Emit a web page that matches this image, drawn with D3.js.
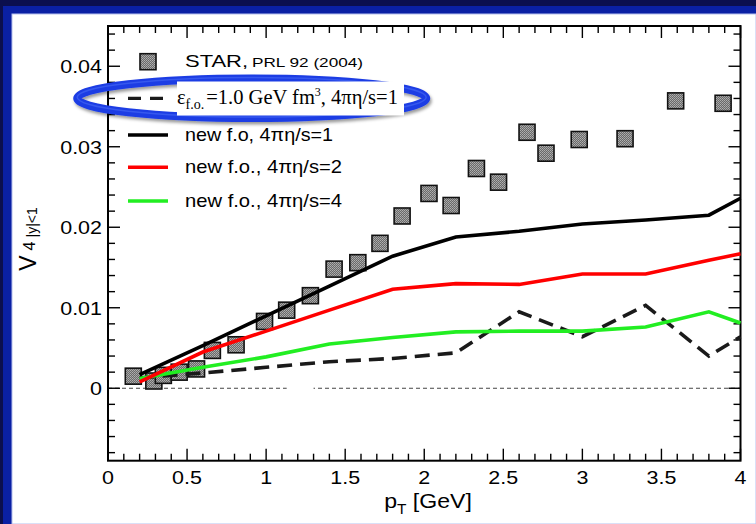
<!DOCTYPE html>
<html><head><meta charset="utf-8">
<script src="https://cdn.jsdelivr.net/npm/d3@7"></script>
<style>html,body{margin:0;padding:0;background:#0b0f4e;} svg{display:block}</style>
</head><body>
<svg id="c" width="756" height="524"></svg>
<script>
// ---- data ----
const starPt = [0.16,0.29,0.35,0.45,0.56,0.66,0.81,0.99,1.13,1.28,1.43,1.58,1.72,1.86,2.03,2.17,2.33,2.47,2.65,2.77,2.98,3.27,3.59,3.89];
const starV4 = [0.0015,0.0009,0.0016,0.0020,0.0024,0.0047,0.0054,0.0083,0.0097,0.0115,0.0148,0.0156,0.0180,0.0214,0.0242,0.0227,0.0273,0.0256,0.0318,0.0292,0.0309,0.0310,0.0357,0.0354];
const hydroPt = [0.2,0.6,1.0,1.4,1.8,2.2,2.6,3.0,3.4,3.8,4.0];
const v4OldFo = [0.0013,0.0019,0.0026,0.0033,0.0037,0.0044,0.0095,0.0064,0.0103,0.0040,0.0064];
const v4Eta1  = [0.0017,0.0053,0.0090,0.0127,0.0164,0.0188,0.0195,0.0204,0.0209,0.0215,0.0236];
const v4Eta2  = [0.0008,0.0045,0.0071,0.0097,0.0123,0.0130,0.0129,0.0142,0.0142,0.0159,0.0167];
const v4Eta4  = [0.0012,0.0026,0.0039,0.0055,0.0063,0.0070,0.0071,0.0071,0.0076,0.0095,0.0081];
const xTicks = [0,0.5,1,1.5,2,2.5,3,3.5,4];
const xTickLabels = ["0","0.5","1","1.5","2","2.5","3","3.5","4"];
const yTicks = [0,0.01,0.02,0.03,0.04];
const yTickLabels = ["0","0.01","0.02","0.03","0.04"];
const xMinorStep = 0.1, yMinorStep = 0.002;

const W = 756, H = 524;
const svg = d3.select("#c");
const defs = svg.append("defs");
const pat = defs.append("pattern").attr("id","dither").attr("width",2).attr("height",2).attr("patternUnits","userSpaceOnUse");
pat.append("rect").attr("width",2).attr("height",2).attr("fill","#6a6a6a");
pat.append("rect").attr("width",1).attr("height",1).attr("fill","#b0b0b0");
pat.append("rect").attr("x",1).attr("y",1).attr("width",1).attr("height",1).attr("fill","#a0a0a0");
const sh = defs.append("filter").attr("id","shadow").attr("x","-10%").attr("y","-50%").attr("width","120%").attr("height","200%");
sh.append("feDropShadow").attr("dx",1.5).attr("dy",2.5).attr("stdDeviation",1.8).attr("flood-color","#000").attr("flood-opacity",0.4);

// background frame
svg.append("rect").attr("width",W).attr("height",H).attr("fill","#0b0f4e");
svg.append("rect").attr("x",3).attr("y",6).attr("width",W-3).attr("height",H-6).attr("fill","#0a20a4");
svg.append("rect").attr("x",12).attr("y",14).attr("width",W-12).attr("height",H-14).attr("fill","#fff")
  .attr("stroke","#b5c0ee").attr("stroke-width",1);

const x = d3.scaleLinear().domain([0,4]).range([108,740.5]);
const y = d3.scaleLinear().domain([-0.009,0.045]).range([460.7,26]);
const [X0,X1] = x.range(), [Y0,Y1] = y.range();

const SANS = "'Liberation Sans',Arial,Helvetica,sans-serif";
const SERIF = "'Liberation Serif','Times New Roman',serif";
function stretch(sel, k){ sel.each(function(){ const w=this.getComputedTextLength(); d3.select(this).attr("textLength",w*k).attr("lengthAdjust","spacingAndGlyphs"); }); }

// zero line
svg.append("line").attr("x1",X0).attr("x2",X1).attr("y1",y(0)).attr("y2",y(0))
  .attr("stroke","#444").attr("stroke-width",1).attr("stroke-dasharray","4,3");
svg.append("rect").attr("x",x(1.13)).attr("y",y(0)-3).attr("width",x(1.30)-x(1.13)).attr("height",6).attr("fill","#fff");

// ticks
const axG = svg.append("g").attr("stroke","#000").attr("stroke-width",1.4);
const isMajor = (v,s)=>Math.abs(v/s-Math.round(v/s))<1e-6;
const xm = d3.range(0, 4+1e-9, xMinorStep);
xm.forEach(v=>{
  const L = isMajor(v,0.5)?12:7;
  axG.append("line").attr("x1",x(v)).attr("x2",x(v)).attr("y1",Y0).attr("y2",Y0-L);
  axG.append("line").attr("x1",x(v)).attr("x2",x(v)).attr("y1",Y1).attr("y2",Y1+L);
});
const ym = d3.range(-0.008, 0.045+1e-9, yMinorStep);
ym.forEach(v=>{
  const L = isMajor(v,0.01)?12:7;
  axG.append("line").attr("x1",X0).attr("x2",X0+L).attr("y1",y(v)).attr("y2",y(v));
  axG.append("line").attr("x1",X1).attr("x2",X1-L).attr("y1",y(v)).attr("y2",y(v));
});
svg.append("rect").attr("x",X0).attr("y",Y1).attr("width",X1-X0).attr("height",Y0-Y1)
  .attr("fill","none").attr("stroke","#000").attr("stroke-width",2);

// tick labels
const xl = svg.append("g").selectAll("text").data(xTicks).join("text")
  .attr("x",d=>x(d)).attr("y",484).attr("text-anchor","middle")
  .attr("font-family",SANS).attr("font-size",19).attr("fill","#000")
  .text((d,i)=>xTickLabels[i]);
stretch(xl,1.13);
const yl = svg.append("g").selectAll("text").data(yTicks).join("text")
  .attr("x",102).attr("y",d=>y(d)+7).attr("text-anchor","end")
  .attr("font-family",SANS).attr("font-size",19).attr("fill","#000")
  .text((d,i)=>yTickLabels[i]);
stretch(yl,1.13);

// axis titles
const xt = svg.append("g").attr("transform","translate(428,507.5) scale(1.1,1)")
  .append("text").attr("text-anchor","middle").attr("font-family",SANS).attr("font-size",21).attr("fill","#000");
xt.append("tspan").text("p");
xt.append("tspan").attr("font-size",14).attr("dy",6).text("T");
xt.append("tspan").attr("dy",-6).text(" [GeV]");

const yt = svg.append("g").attr("transform","translate(36,239) rotate(-90)")
  .append("text").attr("text-anchor","middle").attr("font-family",SANS).attr("font-size",23).attr("fill","#000");
yt.append("tspan").text("V");
yt.append("tspan").attr("dx",5).attr("font-size",16).attr("dy",-1).text("4");
yt.append("tspan").attr("dx",4).attr("font-size",14).attr("dy",2).text("|y|<1");

// STAR squares
const sq = 16;
svg.append("g").selectAll("rect").data(starPt).join("rect")
  .attr("x",(d)=>x(d)-sq/2).attr("y",(d,i)=>y(starV4[i])-sq/2)
  .attr("width",sq).attr("height",sq).attr("fill","url(#dither)")
  .attr("stroke","#111").attr("stroke-width",1.6);

// hydro lines
const line = d3.line().x(d=>x(d[0])).y(d=>y(d[1]));
const series = [
  {v:v4OldFo, color:"#1a1a1a", dash:"15,8"},
  {v:v4Eta4, color:"#22ee22", dash:null},
  {v:v4Eta2, color:"#ff0000", dash:null},
  {v:v4Eta1, color:"#000000", dash:null}
];
series.forEach(s=>{
  svg.append("path").attr("d",line(hydroPt.map((p,i)=>[p,s.v[i]])))
    .attr("fill","none").attr("stroke",s.color).attr("stroke-width",3.6)
    .attr("stroke-dasharray",s.dash);
});

// legend
const lg = svg.append("g");
lg.append("rect").attr("x",148-sq/2).attr("y",61.7-sq/2).attr("width",sq).attr("height",sq)
  .attr("fill","url(#dither)").attr("stroke","#111").attr("stroke-width",1.6);
lg.append("text").attr("x",185).attr("y",66.8).attr("font-family",SANS).attr("font-size",16.5)
  .attr("textLength",63).attr("lengthAdjust","spacingAndGlyphs").text("STAR,");
lg.append("text").attr("x",252).attr("y",66.8).attr("font-family",SANS).attr("font-size",13.5)
  .attr("textLength",111).attr("lengthAdjust","spacingAndGlyphs").text("PRL 92 (2004)");
lg.append("line").attr("x1",128).attr("x2",168).attr("y1",98.3).attr("y2",98.3)
  .attr("stroke","#1a1a1a").attr("stroke-width",3.2).attr("stroke-dasharray","13,9");
const legRows = [
  {yy:135, color:"#000", label:"new f.o, 4πη/s=1", len:148},
  {yy:167.3, color:"#ff0000", label:"new f.o., 4πη/s=2", len:157},
  {yy:201, color:"#22ee22", label:"new f.o., 4πη/s=4", len:157}
];
legRows.forEach(r=>{
  lg.append("line").attr("x1",128).attr("x2",168).attr("y1",r.yy).attr("y2",r.yy)
    .attr("stroke",r.color).attr("stroke-width",3.6);
  lg.append("text").attr("x",185).attr("y",r.yy+5.5).attr("font-family",SANS).attr("font-size",18.5)
    .attr("textLength",r.len).attr("lengthAdjust","spacingAndGlyphs").text(r.label);
});

// highlighted ellipse + pasted serif label
svg.append("ellipse").attr("cx",251.7).attr("cy",98.3).attr("rx",174.5).attr("ry",19.8)
  .attr("fill","none").attr("stroke","#1c3ce4").attr("stroke-width",8).attr("filter","url(#shadow)");
svg.append("ellipse").attr("cx",251.7).attr("cy",97.3).attr("rx",174.5).attr("ry",19.8)
  .attr("fill","none").attr("stroke","#3658ee").attr("stroke-width",1.5);
svg.append("rect").attr("x",177).attr("y",81.5).attr("width",227).attr("height",34).attr("fill","#fff");
const st = svg.append("text").attr("x",177).attr("y",103.5).attr("font-family",SERIF).attr("font-size",20.5).attr("fill","#000");
st.append("tspan").text("ε");
st.append("tspan").attr("font-size",14).attr("dy",5).text("f.o.");
st.append("tspan").attr("dx",2).attr("dy",-5).text("=1.0 GeV fm");
st.append("tspan").attr("font-size",12).attr("dy",-8).text("3");
st.append("tspan").attr("dy",8).text(", 4πη/s=1");
</script>
</body></html>
